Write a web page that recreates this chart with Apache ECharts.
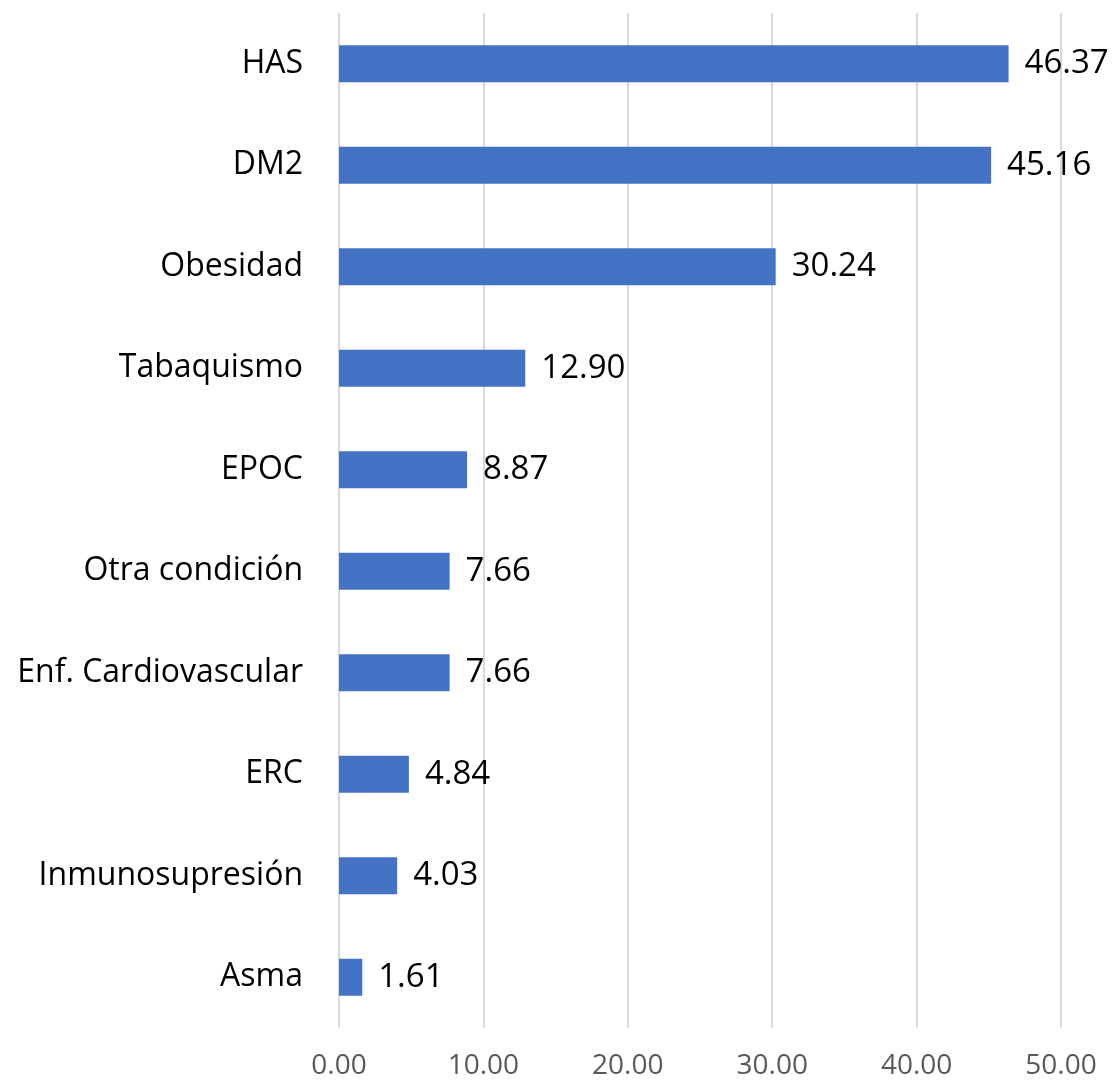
<!DOCTYPE html>
<html>
<head>
<meta charset="utf-8">
<script src="https://cdn.jsdelivr.net/npm/echarts@6/dist/echarts.min.js"></script>
<style>
  html, body { margin: 0; padding: 0; background: #fff; }
  #chartWrapper { width: 1115px; height: 1083px; }
</style>
</head>
<body>
<div id="chartWrapper"></div>
<script>
// categorias de abajo hacia arriba (eje de categorias en ECharts empieza abajo)
var categorias = ['Asma', 'Inmunosupresión', 'ERC', 'Enf. Cardiovascular', 'Otra condición',
                  'EPOC', 'Tabaquismo', 'Obesidad', 'DM2', 'HAS'];
var valores = [1.61, 4.03, 4.84, 7.66, 7.66, 8.87, 12.90, 30.24, 45.16, 46.37];

var myChart = echarts.init(document.getElementById('chartWrapper'));

var option = {
    animation: false,
    grid: {
        left: 339,
        right: 54,
        top: 13,
        bottom: 55
    },
    xAxis: {
        type: 'value',
        min: 0,
        max: 50,
        interval: 10,
        axisLine: { show: false },
        axisTick: { show: false },
        splitLine: {
            lineStyle: { color: '#d9d9d9', width: 2 }
        },
        axisLabel: {
            margin: 24,
            color: '#595959',
            fontFamily: 'Open Sans',
            fontSize: 28,
            formatter: function(value) {
                return value.toFixed(2);
            }
        }
    },
    yAxis: {
        type: 'category',
        data: categorias,
        axisLine: { show: false },
        axisTick: { show: false },
        axisLabel: {
            margin: 36,
            color: '#000',
            fontFamily: 'Open Sans',
            fontSize: 32
        }
    },
    series: [{
        type: 'bar',
        data: valores,
        barWidth: 37,
        itemStyle: { color: '#4472c4' },
        label: {
            show: true,
            position: 'right',
            distance: 16,
            color: '#000',
            fontFamily: 'Open Sans',
            fontSize: 33,
            formatter: function(p) {
                return p.value.toFixed(2);
            }
        }
    }]
};

myChart.setOption(option);
</script>
</body>
</html>
